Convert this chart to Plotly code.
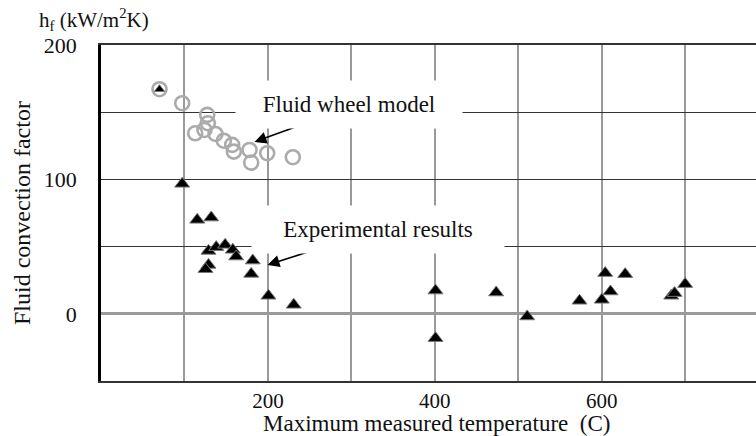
import plotly.graph_objects as go

# Fluid wheel model (open grey circles)
model_temp = [70.1, 97.3, 127.3, 128.0, 112.9, 124.0, 137.2, 147.2, 157.2, 159.2, 178.0, 180.0, 199.2, 229.9]
model_hf = [167.1, 156.7, 148.0, 141.8, 134.3, 136.8, 133.8, 128.8, 125.7, 120.7, 121.9, 112.5, 119.5, 116.5]

# Experimental results (black triangles)
exp_temp = [97.3, 115.3, 132.1, 128.8, 138.1, 148.8, 158.0, 162.0, 128.8, 125.2, 181.9, 180.0, 200.7, 231.0,
            400.9, 400.9, 473.6, 510.8, 573.5, 600.2, 604.3, 610.6, 628.2, 683.4, 687.4, 700.1]
exp_hf = [96.7, 69.9, 71.6, 46.8, 49.6, 51.3, 47.6, 42.6, 36.4, 33.2, 39.6, 29.7, 13.4, 6.7,
          17.3, -18.1, 15.8, -2.0, 9.7, 10.4, 30.3, 16.6, 29.5, 13.4, 15.4, 22.1]

# experimental point hidden inside the first model circle
overlap_temp = [70.1]
overlap_hf = [167.1]

x_tickvals = [100, 200, 300, 400, 500, 600, 700]
x_ticktext = ["", "200", "", "400", "", "600", ""]
y_tickvals = [0, 50, 100, 150, 200]
y_ticktext = ["0", "", "100", "", "200"]

FONT = "Liberation Serif"

fig = go.Figure()
fig.add_trace(go.Scatter(
    x=model_temp, y=model_hf, mode="markers",
    marker=dict(symbol="circle-open", size=14, color="#ababab", line=dict(width=2.6, color="#ababab")),
    showlegend=False, hoverinfo="skip"))
fig.add_trace(go.Scatter(
    x=exp_temp, y=exp_hf, mode="markers",
    marker=dict(symbol="triangle-up", size=13, color="#000000", line=dict(width=1, color="#777777")),
    showlegend=False, hoverinfo="skip"))
fig.add_trace(go.Scatter(
    x=overlap_temp, y=overlap_hf, mode="markers",
    marker=dict(symbol="triangle-up", size=9, color="#000000", line=dict(width=1, color="#777777")),
    showlegend=False, hoverinfo="skip"))

annotations = [
    # arrows
    dict(x=184, y=127.9, xref="x", yref="y", ax=41, ay=-15, text="", showarrow=True,
         arrowhead=2, arrowsize=1.5, arrowwidth=1.6, arrowcolor="#000000"),
    dict(x=199.5, y=36.4, xref="x", yref="y", ax=41, ay=-13, text="", showarrow=True,
         arrowhead=2, arrowsize=1.5, arrowwidth=1.6, arrowcolor="#000000"),
    # labels with white boxes
    dict(x=297.8, y=155.4, xref="x", yref="y", text="Fluid wheel model", showarrow=False,
         bgcolor="white", width=224, height=45, font=dict(family=FONT, size=23, color="#111")),
    dict(x=331.4, y=62.5, xref="x", yref="y", text="Experimental results", showarrow=False,
         bgcolor="white", width=250, height=45, font=dict(family=FONT, size=23, color="#111")),
    # axis titles
    dict(x=-0.0977, y=1.075, xref="paper", yref="paper", xanchor="left", yanchor="middle",
         text="h<sub>f</sub> (kW/m<sup>2</sup>K)", showarrow=False,
         font=dict(family=FONT, size=21, color="#111")),
    dict(x=-0.1206, y=0.5, xref="paper", yref="paper", xanchor="center", yanchor="middle",
         textangle=-90, text="Fluid convection factor", showarrow=False,
         font=dict(family=FONT, size=24, color="#111")),
    dict(x=0.512, y=-0.127, xref="paper", yref="paper", xanchor="center", yanchor="middle",
         text="Maximum measured temperature\u00a0 (C)", showarrow=False,
         font=dict(family=FONT, size=23, color="#111")),
]

fig.update_layout(
    width=756, height=436,
    margin=dict(l=101, r=0, t=45, b=55),
    paper_bgcolor="white", plot_bgcolor="white",
    font=dict(family=FONT, size=22, color="#111"),
    annotations=annotations,
    xaxis=dict(range=[0, 785], tickvals=x_tickvals, ticktext=x_ticktext,
               showgrid=True, gridcolor="#9a9a9a", gridwidth=1.5,
               zeroline=False, showline=True, linecolor="#333333", linewidth=1.6, mirror=True,
               ticks="", ticklabelstandoff=0, tickfont=dict(family=FONT, size=21, color="#111")),
    yaxis=dict(range=[-50, 200], tickvals=y_tickvals, ticktext=y_ticktext,
               showgrid=True, gridcolor="#333333", gridwidth=1.3,
               zeroline=True, zerolinecolor="#9a9a9a", zerolinewidth=3,
               showline=True, linecolor="#000000", linewidth=2.6,
               ticks="", ticklabelstandoff=17, tickfont=dict(family=FONT, size=22, color="#111")),
)

fig.write_html("out.html")
